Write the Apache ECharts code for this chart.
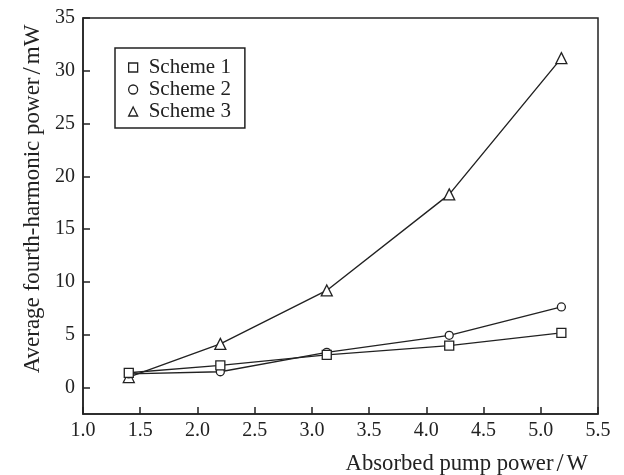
<!DOCTYPE html>
<html>
<head>
<meta charset="utf-8">
<script src="https://cdn.jsdelivr.net/npm/echarts@6/dist/echarts.min.js"></script>
<style>html,body{margin:0;padding:0;background:#fff}#c{width:624px;height:475px}</style>
</head>
<body>
<div id="c"></div>
<script>
const pumpPower = [1.4, 2.2, 3.13, 4.2, 5.18];
const scheme1 = [1.4, 2.1, 3.1, 3.97, 5.18];
const scheme2 = [1.3, 1.5, 3.34, 4.95, 7.64];
const scheme3 = [1.0, 4.14, 9.2, 18.3, 31.2];
const seriesNames = ['Scheme 1', 'Scheme 2', 'Scheme 3'];
const yTickValues = [0, 5, 10, 15, 20, 25, 30, 35];
const xTitleParts = ['Absorbed pump power', '/', 'W'];
const yTitleParts = ['Average fourth-harmonic power', '/', 'mW'];

const ink = '#222';
const font = "'Liberation Serif', 'Times New Roman', serif";
const pair = (xs, ys) => xs.map((x, i) => [x, ys[i]]);
const symbols = ['rect', 'circle', 'triangle'];
const sizes = [9, 8, 11];
const datas = [scheme1, scheme2, scheme3];
const titleRich = size => ({
  a: {fontFamily: font, fontSize: size, fill: ink, color: ink},
  s: {fontFamily: font, fontSize: size + 3, fill: ink, color: ink, padding: [0, 3, 0, 3]}
});
const richText = p => '{a|' + p[0] + '}{s|' + p[1] + '}{a|' + p[2] + '}';

const chart = echarts.init(document.getElementById('c'), null, {renderer: 'canvas'});
chart.setOption({
  animation: false,
  backgroundColor: '#fff',
  grid: {left: 83, right: 26, top: 18, bottom: 61, show: true, borderColor: ink, borderWidth: 1.5, backgroundColor: 'transparent'},
  xAxis: {
    type: 'value', min: 1, max: 5.5, interval: 0.5,
    axisLine: {onZero: false, lineStyle: {color: ink, width: 1.5}},
    axisTick: {inside: true, length: 7, lineStyle: {color: ink, width: 1.5}},
    axisLabel: {color: ink, fontFamily: font, fontSize: 20, margin: 7, formatter: v => v.toFixed(1)},
    splitLine: {show: false}
  },
  yAxis: {
    type: 'value', min: -2.5, max: 35,
    axisLine: {onZero: false, lineStyle: {color: ink, width: 1.5}},
    axisTick: {inside: true, length: 7, customValues: yTickValues, lineStyle: {color: ink, width: 1.5}},
    axisLabel: {color: ink, fontFamily: font, fontSize: 20, margin: 8, customValues: yTickValues},
    splitLine: {show: false}
  },
  legend: {
    orient: 'vertical', left: 115, top: 48,
    padding: [9, 14, 6, 13],
    itemGap: 1, itemWidth: 9, itemHeight: 9,
    borderColor: ink, borderWidth: 1.5, backgroundColor: '#fff',
    textStyle: {color: ink, fontFamily: font, fontSize: 21, padding: [0, 0, 0, 6], lineHeight: 21},
    data: seriesNames.map((n, i) => ({name: n, icon: symbols[i], itemStyle: {color: '#fff', borderColor: ink, borderWidth: 1.3}}))
  },
  graphic: [
    {type: 'text', right: 36, top: 451, style: {text: richText(xTitleParts), rich: titleRich(22.7), fill: ink}},
    {type: 'text', x: 33, y: 199, rotation: Math.PI / 2, style: {text: richText(yTitleParts), rich: titleRich(23), fill: ink, align: 'center', verticalAlign: 'middle'}}
  ],
  series: datas.map((d, i) => ({
    name: seriesNames[i], type: 'line', data: pair(pumpPower, d),
    symbol: symbols[i], symbolSize: sizes[i], showAllSymbol: true,
    lineStyle: {color: ink, width: 1.4},
    itemStyle: {color: '#fff', borderColor: ink, borderWidth: 1.3},
    z: 3 - i
  }))
});
</script>
</body>
</html>
